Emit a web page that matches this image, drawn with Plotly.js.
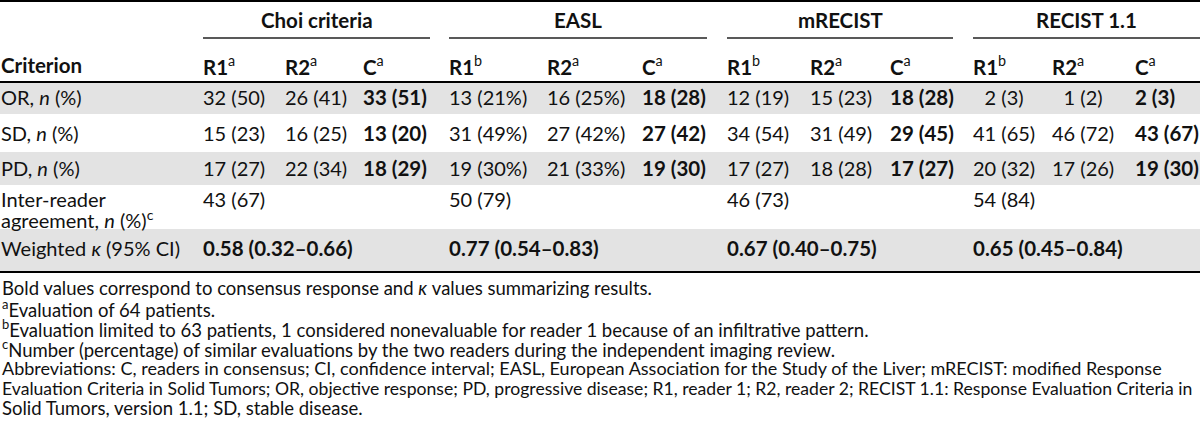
<!DOCTYPE html>
<html>
<head>
<meta charset="utf-8">
<script src="https://cdn.plot.ly/plotly-3.0.1.min.js"></script>
<style>html,body{margin:0;padding:0;background:#fff;}#chart{width:1200px;height:429px;}</style>
</head>
<body>
<div id="chart"></div>
<script>
// ---------------- data ----------------
const criteria = ['Choi criteria', 'EASL', 'mRECIST', 'RECIST 1.1'];
const readers = ['R1', 'R2', 'C'];
const readerNotes = ['a', 'a', 'a', 'b', 'a', 'a', 'b', 'a', 'a', 'b', 'a', 'a'];
const rowLabels = ['OR, <i>n</i> (%)', 'SD, <i>n</i> (%)', 'PD, <i>n</i> (%)'];
const orN   = [32, 26, 33, 13, 16, 18, 12, 15, 18, 2, 1, 2];
const orPct = [50, 41, 51, 21, 25, 28, 19, 23, 28, 3, 2, 3];
const sdN   = [15, 16, 13, 31, 27, 27, 34, 31, 29, 41, 46, 43];
const sdPct = [23, 25, 20, 49, 42, 42, 54, 49, 45, 65, 72, 67];
const pdN   = [17, 22, 18, 19, 21, 19, 17, 18, 17, 20, 17, 19];
const pdPct = [27, 34, 29, 30, 33, 30, 27, 28, 27, 32, 26, 30];
const pctSign = ['', '', '', '%', '%', '', '', '', '', '', '', ''];
const agreeLabel = ['Inter-reader', 'agreement, <i>n</i> (%)<sup>c</sup>'];
const agreeN   = [43, 50, 46, 54];
const agreePct = [67, 79, 73, 84];
const kappaLabel = 'Weighted <i>κ</i> (95% CI)';
const kappa   = ['0.58', '0.77', '0.67', '0.65'];
const kappaLo = ['0.32', '0.54', '0.40', '0.45'];
const kappaHi = ['0.66', '0.83', '0.75', '0.84'];
const headerLabel = 'Criterion';
const footnotes = [
  'Bold values correspond to consensus response and <i>κ</i> values summarizing results.',
  '<sup>a</sup>Evaluation of 64 patients.',
  '<sup>b</sup>Evaluation limited to 63 patients, 1 considered nonevaluable for reader 1 because of an infiltrative pattern.',
  '<sup>c</sup>Number (percentage) of similar evaluations by the two readers during the independent imaging review.',
  'Abbreviations: C, readers in consensus; CI, confidence interval; EASL, European Association for the Study of the Liver; mRECIST: modified Response',
  'Evaluation Criteria in Solid Tumors; OR, objective response; PD, progressive disease; R1, reader 1; R2, reader 2; RECIST 1.1: Response Evaluation Criteria in',
  'Solid Tumors, version 1.1; SD, stable disease.'
];

// ---------------- layout constants ----------------
const W = 1200, H = 429;
const FONT = 'Lato, "Open Sans", sans-serif';
const FS = 20;        // regular body text
const FSB = 20.5;     // bold body / header text
const TXT = '#111';
const GRAY = '#e3e3e3';
const labelX = 1;
const colX = [203, 285, 363, 449, 547, 642, 727, 810, 890, 973, 1052, 1135];
const groupSpan = [[203, 430], [449, 707], [727, 953], [973, 1200]];
const yTopLine = 1, yGroup = 20, yGroupLine = 38, ySub = 65, yHeadLine = 82;
const rowBands = [[82, 114], [114, 152], [152, 185], [185, 229], [229, 271]];
const rowTextY = [97, 133, 168, null, 248];
const agreeY = [199, 219];
const yBottomLine = 272;
const footY0 = 288, footStep = 20;
const footFS = [18.5, 18.5, 18.5, 18.5, 18, 17.6, 18.5];

// ---------------- build ----------------
const ann = [];
function txt(x, y, text, size, opts) {
  ann.push(Object.assign({
    x: x, y: y, xref: 'x', yref: 'y', text: text, showarrow: false,
    xanchor: 'left', yanchor: 'middle', borderpad: 0, borderwidth: 0,
    font: {family: FONT, size: size, color: TXT}
  }, opts || {}));
}
function fmt(n, p, sign) { return n + ' (' + p + sign + ')'; }
function pad(s, n, i) { return (n < 10 && i % 3 !== 2) ? '\u2007' + s : s; }

// group headers
criteria.forEach((c, g) => {
  const mid = (groupSpan[g][0] + groupSpan[g][1]) / 2;
  txt(mid, yGroup, '<b>' + c + '</b>', FSB, {xanchor: 'center'});
});
// sub headers
txt(labelX, ySub, '<b>' + headerLabel + '</b>', FSB);
colX.forEach((x, i) => {
  txt(x, ySub, '<b>' + readers[i % 3] + '</b><sup>' + readerNotes[i] + '</sup>', FSB);
});
// body rows
const bodyN = [orN, sdN, pdN], bodyP = [orPct, sdPct, pdPct];
rowLabels.forEach((lab, r) => {
  txt(labelX, rowTextY[r], lab, FS);
  colX.forEach((x, i) => {
    let s = fmt(bodyN[r][i], bodyP[r][i], pctSign[i]);
    s = pad(s, bodyN[r][i], i);
    if (i % 3 === 2) txt(x, rowTextY[r], '<b>' + s + '</b>', FSB);
    else txt(x, rowTextY[r], s, FS);
  });
});
// inter-reader agreement
txt(labelX, agreeY[0], agreeLabel[0], FS);
txt(labelX, agreeY[1], agreeLabel[1], FS);
agreeN.forEach((n, g) => txt(groupSpan[g][0], agreeY[0], fmt(n, agreePct[g], ''), FS));
// weighted kappa
txt(labelX, rowTextY[4], kappaLabel, FS);
kappa.forEach((k, g) => txt(groupSpan[g][0], rowTextY[4],
  '<b>' + k + ' (' + kappaLo[g] + '–' + kappaHi[g] + ')</b>', FSB));
// footnotes
footnotes.forEach((f, i) => txt(labelX + 1, footY0 + i * footStep, f, footFS[i]));

// shapes
const shapes = [];
[0, 2, 4].forEach(r => shapes.push({type: 'rect', xref: 'paper', yref: 'y', x0: 0, x1: 1,
  y0: rowBands[r][0], y1: rowBands[r][1], fillcolor: GRAY, line: {width: 0}, layer: 'below'}));
function hline(y, x0, x1, w, col) {
  shapes.push({type: 'line', xref: 'x', yref: 'y', x0: x0, x1: x1, y0: y, y1: y,
    line: {color: col, width: w}});
}
hline(yTopLine, 0, W, 2, '#000');
groupSpan.forEach(s => hline(yGroupLine, s[0], s[1], 1.5, '#222'));
hline(yHeadLine, 0, W, 2, '#000');
hline(yBottomLine, 0, W, 2, '#000');

const layout = {
  width: W, height: H,
  margin: {l: 0, r: 0, t: 0, b: 0},
  paper_bgcolor: '#fff', plot_bgcolor: '#fff',
  showlegend: false,
  xaxis: {range: [0, W], visible: false, fixedrange: true},
  yaxis: {range: [H, 0], visible: false, fixedrange: true},
  annotations: ann,
  shapes: shapes
};
Plotly.newPlot('chart', [{type: 'scatter', x: [], y: [], mode: 'none', hoverinfo: 'skip'}], layout,
  {staticPlot: true, displayModeBar: false});
</script>
</body>
</html>
